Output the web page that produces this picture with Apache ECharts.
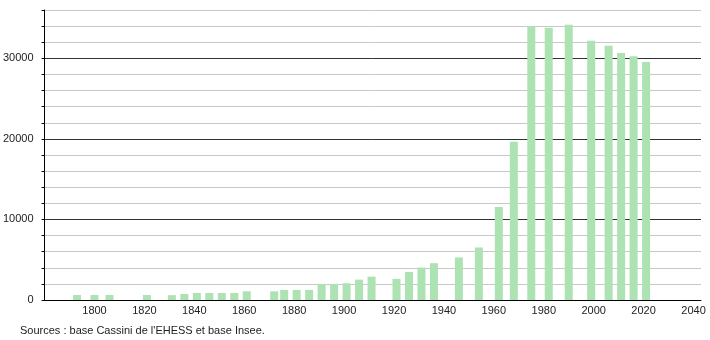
<!DOCTYPE html>
<html>
<head>
<meta charset="utf-8">
<script src="https://cdn.jsdelivr.net/npm/echarts@6/dist/echarts.min.js"></script>
<style>html,body{margin:0;padding:0;background:#fff;}#c{width:710px;height:340px;}</style>
</head>
<body>
<div id="c"></div>
<script>
const years = [1793,1800,1806,1821,1831,1836,1841,1846,1851,1856,1861,1872,1876,1881,1886,1891,1896,1901,1906,1911,1921,1926,1931,1936,1946,1954,1962,1968,1975,1982,1990,1999,2006,2011,2016,2021];
const population = [620,620,620,620,600,750,870,870,870,870,1080,1080,1250,1250,1250,2000,2000,2080,2530,2900,2620,3490,4030,4570,5280,6520,11560,19660,34000,33790,34160,32170,31550,30670,30260,29550];
const yTickLabels = [0,10000,20000,30000];
const xTickLabels = [1800,1820,1840,1860,1880,1900,1920,1940,1960,1980,2000,2020,2040];
const sourceText = "Sources : base Cassini de l'EHESS et base Insee.";

const chart = echarts.init(document.getElementById('c'), null, {renderer:'canvas'});
const font = 'Liberation Sans, Arial, sans-serif';
chart.setOption({
  animation:false,
  grid:{left:44,right:9,top:10,bottom:40,containLabel:false},
  xAxis:{type:'value',min:1780,max:2043,interval:20,
    axisLine:{show:true,lineStyle:{color:'#000',width:1}},
    axisTick:{show:false},splitLine:{show:false},
    axisLabel:{color:'#222',fontSize:11,fontFamily:font,margin:5,
      formatter:v=>xTickLabels.includes(v)?String(v):''}},
  yAxis:{type:'value',min:0,max:36000,interval:2000,
    axisLine:{show:true,lineStyle:{color:'#000',width:1}},
    axisTick:{show:true,length:3,lineStyle:{color:'#000'}},
    splitLine:{show:true,lineStyle:{color:['#333','#c8c8c8','#c8c8c8','#c8c8c8','#c8c8c8'],width:1}},
    axisLabel:{color:'#222',fontSize:11,fontFamily:font,margin:11,
      formatter:v=>yTickLabels.includes(v)?String(v):''}},
  series:[{type:'bar',barWidth:8,
    itemStyle:{color:'#ade2b3'},
    data:years.map((y,i)=>[y,population[i]])}],
  graphic:[{type:'text',left:20,top:325,style:{text:sourceText,fill:'#222',font:'11px '+font}}]
});
</script>
</body>
</html>
